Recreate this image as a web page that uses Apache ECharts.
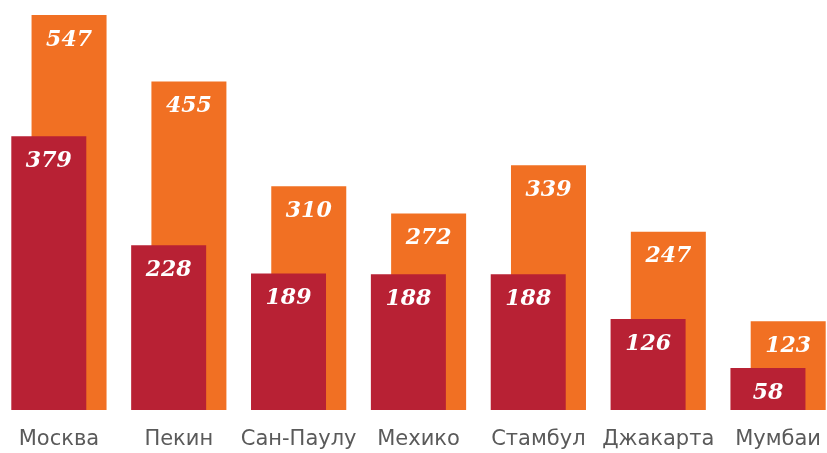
<!DOCTYPE html>
<html>
<head>
<meta charset="utf-8">
<script src="https://cdn.jsdelivr.net/npm/echarts@6/dist/echarts.min.js"></script>
<style>
    html, body { margin: 0; padding: 0; background: #fff; }
    #chart { width: 827px; height: 453px; }
</style>
</head>
<body>
<div id="chart"></div>
<script>
var cities = ['Москва', 'Пекин', 'Сан-Паулу', 'Мехико', 'Стамбул', 'Джакарта', 'Мумбаи'];
var redValues = [379, 228, 189, 188, 188, 126, 58];
var orangeValues = [547, 455, 310, 272, 339, 247, 123];

var valueLabel = {
    show: true,
    position: 'insideTop',
    distance: 14,
    color: '#fff',
    fontFamily: 'DejaVu Serif',
    fontStyle: 'italic',
    fontWeight: 'bold',
    fontSize: 22
};

var mychart = echarts.init(document.getElementById('chart'));
mychart.setOption({
    animation: false,
    grid: {
        left: -1,
        right: -11,
        top: 15,
        bottom: 43,
        outerBoundsMode: 'none',
        containLabel: false
    },
    xAxis: {
        type: 'category',
        data: cities,
        axisLine: { show: false },
        axisTick: { show: false },
        axisLabel: {
            margin: 19,
            color: '#5a5a5a',
            fontFamily: 'DejaVu Sans',
            fontSize: 21,
            interval: 0,
            hideOverlap: false
        }
    },
    yAxis: {
        type: 'value',
        min: 0,
        max: 547,
        show: false,
        splitLine: { show: false }
    },
    series: [
        {
            type: 'bar',
            data: redValues,
            barWidth: 75,
            barGap: '-73%',
            z: 3,
            itemStyle: { color: '#b82134' },
            label: valueLabel
        },
        {
            type: 'bar',
            data: orangeValues,
            barWidth: 75,
            z: 2,
            itemStyle: { color: '#f17023' },
            label: valueLabel
        }
    ]
});
</script>
</body>
</html>
